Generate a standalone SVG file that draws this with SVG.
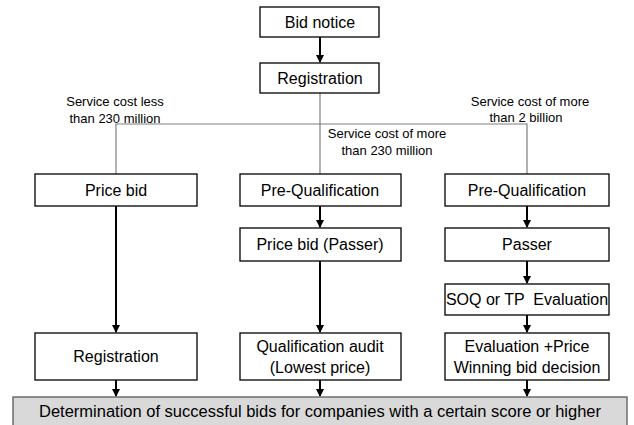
<svg xmlns="http://www.w3.org/2000/svg" width="634" height="425" viewBox="0 0 634 425">
<style>
.box{fill:#fff;stroke:#000;stroke-width:1.3}
.gbox{fill:#d9d9d9;stroke:#595959;stroke-width:1.3}
.t{font-family:"Liberation Sans",Arial,sans-serif;font-size:16px;fill:#000;text-anchor:middle;dominant-baseline:central}
.lab{font-family:"Liberation Sans",Arial,sans-serif;font-size:13px;fill:#000;text-anchor:middle}
.thin{stroke:#7f7f7f;stroke-width:1.2;fill:none}
.arr{stroke:#000;stroke-width:2;fill:none;marker-end:url(#ah)}
</style>
<defs>
<marker id="ah" viewBox="0 0 8 8" refX="7" refY="4" markerWidth="4" markerHeight="4" orient="auto" markerUnits="strokeWidth">
<path d="M0,0 L8,4 L0,8 z" fill="#000"/>
</marker>
</defs>
<rect width="634" height="425" fill="#fff"/>
<g id="connectors">
<path class="thin" d="M320,93 V174 M116,174 V124 H527 V174"/>
<line class="arr" x1="320" y1="37" x2="320" y2="62"/>
<line class="arr" x1="116" y1="206" x2="116" y2="332"/>
<line class="arr" x1="320" y1="206" x2="320" y2="227"/>
<line class="arr" x1="320" y1="261" x2="320" y2="332"/>
<line class="arr" x1="527" y1="206" x2="527" y2="227"/>
<line class="arr" x1="527" y1="261" x2="527" y2="283"/>
<line class="arr" x1="527" y1="315" x2="527" y2="332"/>
<line class="arr" x1="116" y1="380" x2="116" y2="396"/>
<line class="arr" x1="320" y1="380" x2="320" y2="396"/>
<line class="arr" x1="527" y1="380" x2="527" y2="396"/>
</g>
<g id="labels">
<text class="lab" x="115" y="106">Service cost less</text>
<text class="lab" x="115" y="123">than 230 million</text>
<text class="lab" x="530" y="106">Service cost of more</text>
<text class="lab" x="526" y="122">than 2 billion</text>
<text class="lab" x="387" y="138">Service cost of more</text>
<text class="lab" x="387" y="155">than 230 million</text>
</g>
<g id="bid-notice"><rect class="box" x="260" y="7" width="119" height="30"/><text class="t" x="320" y="22">Bid notice</text></g>
<g id="registration-top"><rect class="box" x="260" y="63" width="119" height="30"/><text class="t" x="320" y="78">Registration</text></g>
<g id="price-bid"><rect class="box" x="35" y="174" width="162" height="32"/><text class="t" x="116" y="190">Price bid</text></g>
<g id="prequal-mid"><rect class="box" x="240" y="174" width="161" height="32"/><text class="t" x="320" y="190">Pre-Qualification</text></g>
<g id="prequal-right"><rect class="box" x="445" y="174" width="164" height="32"/><text class="t" x="527" y="190">Pre-Qualification</text></g>
<g id="price-bid-passer"><rect class="box" x="240" y="228" width="161" height="33"/><text class="t" x="320" y="244.5">Price bid (Passer)</text></g>
<g id="passer"><rect class="box" x="445" y="228" width="164" height="33"/><text class="t" x="527" y="244.5">Passer</text></g>
<g id="soq"><rect class="box" x="445" y="284" width="164" height="31"/><text class="t" x="527" y="299.5" xml:space="preserve" style="white-space:pre">SOQ or TP  Evaluation</text></g>
<g id="registration-bottom"><rect class="box" x="35" y="333" width="162" height="47"/><text class="t" x="116" y="356.5">Registration</text></g>
<g id="qual-audit"><rect class="box" x="240" y="333" width="161" height="47"/><text class="t" x="320" y="346">Qualification audit</text><text class="t" x="320" y="367">(Lowest price)</text></g>
<g id="evaluation"><rect class="box" x="445" y="333" width="164" height="47"/><text class="t" x="527" y="346">Evaluation +Price</text><text class="t" x="527" y="367">Winning bid decision</text></g>
<g id="determination"><rect class="gbox" x="13" y="397" width="614" height="30"/><text class="t" x="320" y="411" textLength="562" lengthAdjust="spacingAndGlyphs">Determination of successful bids for companies with a certain score or higher</text></g>
</svg>
